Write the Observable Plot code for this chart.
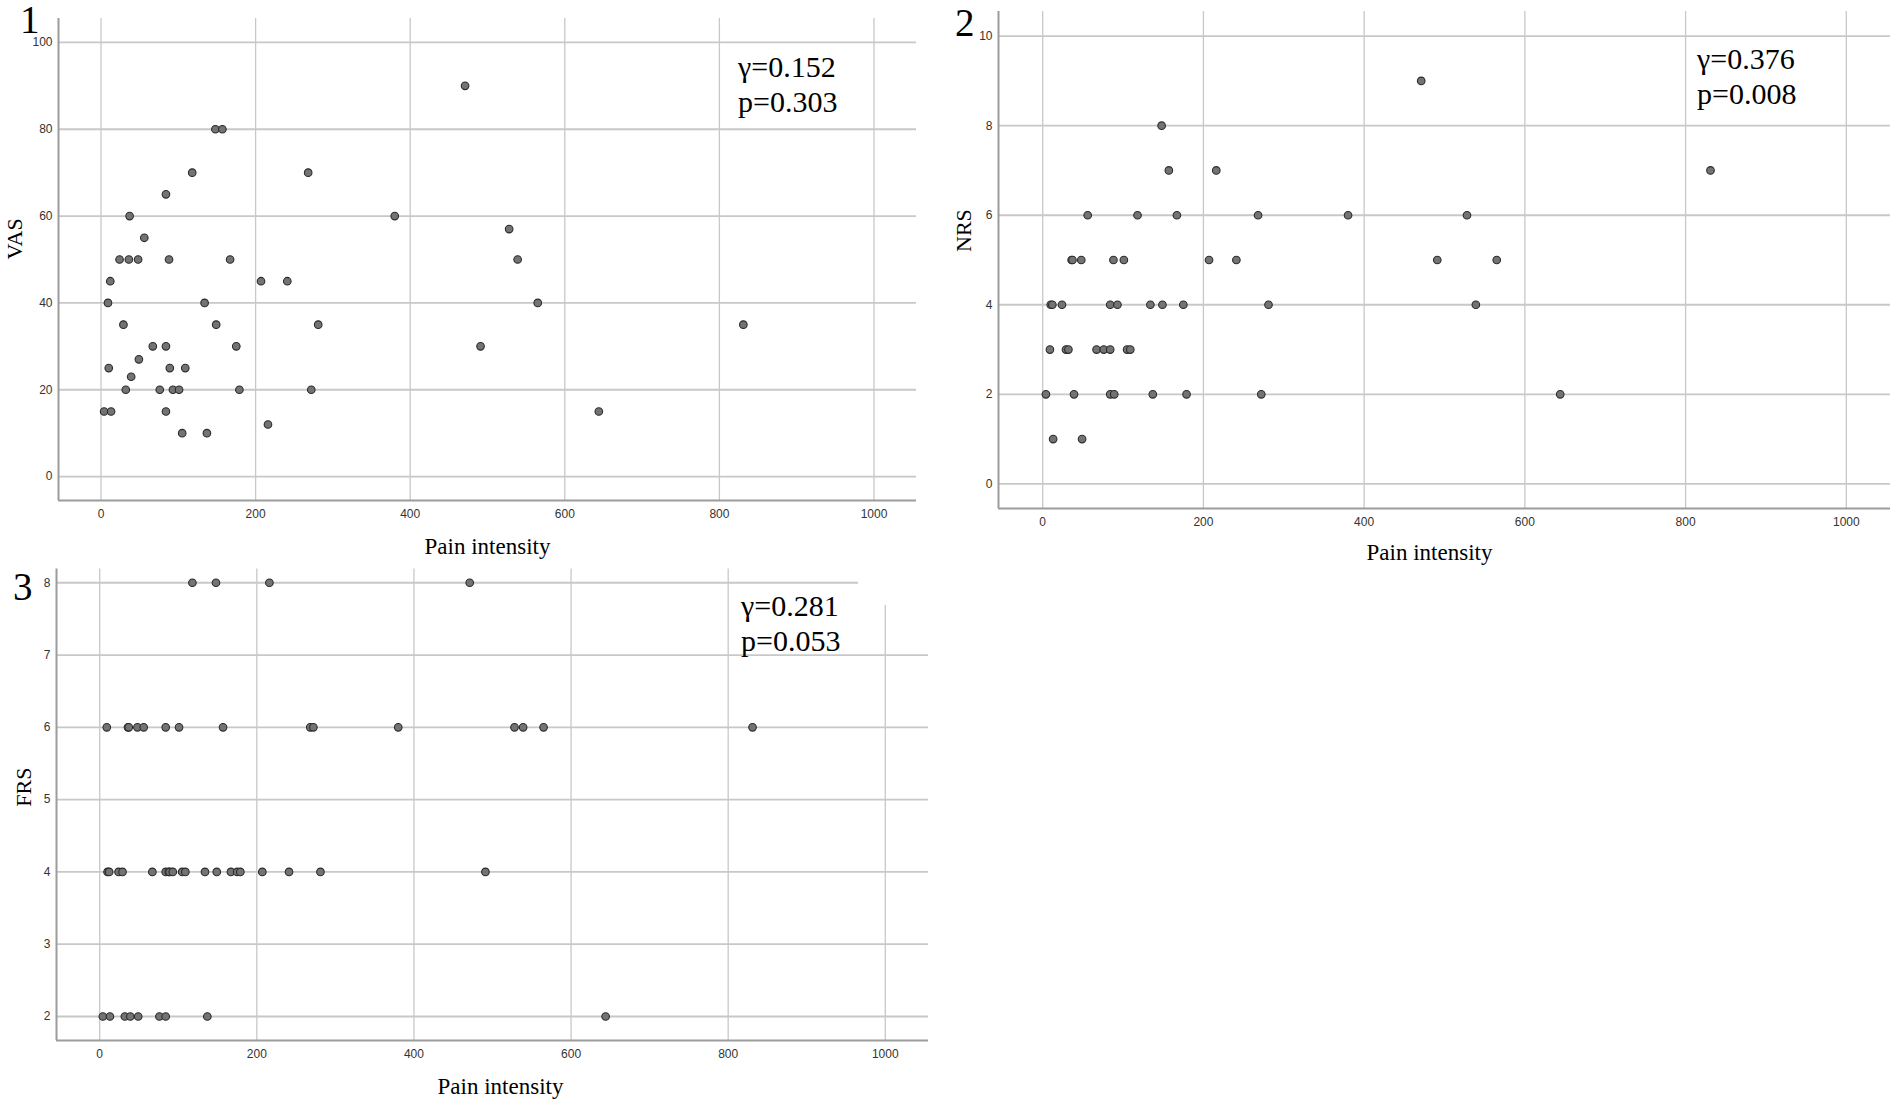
<!DOCTYPE html>
<html>
<head>
<meta charset="utf-8">
<script src="https://cdn.jsdelivr.net/npm/d3@7"></script>
<script src="https://cdn.jsdelivr.net/npm/@observablehq/plot@0.6"></script>
<style>
  html, body { margin: 0; padding: 0; background: #fff; }
  body { width: 1902px; height: 1110px; position: relative; overflow: hidden; }
  .panel { position: absolute; }
  .num { position: absolute; font-family: "Liberation Serif", serif; font-size: 39px; line-height: 28px; color: #000; white-space: nowrap; letter-spacing: -9px; }
  .stat { position: absolute; font-family: "Liberation Serif", serif; font-size: 30px; line-height: 35px; color: #000; white-space: nowrap; }
  .mask { position: absolute; background: #fff; }
</style>
</head>
<body>
<script>
// ---- data ----
const painIntensity = [4, 9, 10, 12, 13, 24, 29, 32, 36, 37, 39, 48, 49, 56, 67, 76, 84, 84, 84, 88, 89, 93, 101, 105, 109, 118, 134, 137, 148, 149, 157, 167, 175, 179, 207, 216, 241, 268, 272, 281, 380, 471, 491, 528, 539, 565, 644, 831];
const vas = [15, 40, 25, 45, 15, 50, 35, 20, 50, 60, 23, 50, 27, 55, 30, 20, 65, 30, 15, 50, 25, 20, 20, 10, 25, 70, 40, 10, 80, 35, 80, 50, 30, 20, 45, 12, 45, 70, 20, 35, 60, 90, 30, 57, 50, 40, 15, 35];
const nrs = [2, 3, 4, 4, 1, 4, 3, 3, 5, 5, 2, 5, 1, 6, 3, 3, 4, 3, 2, 5, 2, 4, 5, 3, 3, 6, 4, 2, 8, 4, 7, 6, 4, 2, 5, 7, 5, 6, 2, 4, 6, 9, 5, 6, 4, 5, 2, 7];
const frs = [2, 6, 4, 4, 2, 4, 4, 2, 6, 6, 2, 6, 2, 6, 4, 2, 6, 2, 4, 4, 4, 4, 6, 4, 4, 8, 4, 2, 8, 4, 6, 4, 4, 4, 4, 8, 4, 6, 6, 4, 6, 8, 4, 6, 6, 6, 2, 6];

const xTicks = [0, 200, 400, 600, 800, 1000];
const vasTicks = [0, 20, 40, 60, 80, 100];
const nrsTicks = [0, 2, 4, 6, 8, 10];
const frsTicks = [2, 3, 4, 5, 6, 7, 8];

const xLabel = "Pain intensity";
const yLabels = ["VAS", "NRS", "FRS"];
const panelNumbers = ["1", "2", "3"];
const gammaValues = ["0.152", "0.376", "0.281"];
const pValues = ["0.303", "0.008", "0.053"];

// ---- scale domains ----
const xDomain = [-55, 1055];
const yDomains = [[-5.5, 105.5], [-0.55, 10.55], [1.668, 8.19]];
const yTickSets = [vasTicks, nrsTicks, frsTicks];
const yKeys = ["vas", "nrs", "frs"];

const data = painIntensity.map((x, i) => ({x, vas: vas[i], nrs: nrs[i], frs: frs[i]}));
const plainFormat = d => String(d);

// ---- layout ----
const layout = [
  {left: 0,   top: 0,   width: 951, height: 560, mt: 18,   mr: 35, mb: 60, ml: 58, yLabDx: -52, yLabDy: 0,  xLabDx: 0,   xLabDy: 53,
   num: {left: 20, top: 6}, stat: {left: 738, top: 49}},
  {left: 940, top: 0,   width: 962, height: 570, mt: 11,   mr: 12, mb: 62, ml: 58, yLabDx: -43, yLabDy: -8, xLabDx: -15, xLabDy: 51,
   num: {left: 955, top: 9}, stat: {left: 1697, top: 41}},
  {left: 0,   top: 555, width: 951, height: 555, mt: 13.5, mr: 23, mb: 70, ml: 56, yLabDx: -41, yLabDy: 2,  xLabDx: 8,   xLabDy: 53,
   num: {left: 13, top: 573}, stat: {left: 741, top: 588}}
];

layout.forEach((L, i) => {
  const yDomain = yDomains[i];
  const chart = Plot.plot({
    width: L.width,
    height: L.height,
    marginTop: L.mt,
    marginRight: L.mr,
    marginBottom: L.mb,
    marginLeft: L.ml,
    x: {domain: xDomain},
    y: {domain: yDomain},
    style: {fontFamily: "'Liberation Sans', Arial, sans-serif", fontSize: "12px", background: "transparent", overflow: "visible"},
    marks: [
      Plot.gridX({ticks: xTicks, stroke: "#c8c8c8", strokeWidth: 1.3, strokeOpacity: 1}),
      Plot.gridY({ticks: yTickSets[i], stroke: "#c8c8c8", strokeWidth: 1.8, strokeOpacity: 1}),
      Plot.ruleX([xDomain[0]], {stroke: "#9c9c9c", strokeWidth: 2}),
      Plot.ruleY([yDomain[0]], {stroke: "#9c9c9c", strokeWidth: 2}),
      Plot.axisX({ticks: xTicks, tickFormat: plainFormat, tickSize: 0, tickPadding: 9, fill: "#333", label: null}),
      Plot.axisY({ticks: yTickSets[i], tickFormat: plainFormat, tickSize: 0, tickPadding: 6, fill: "#333", label: null}),
      Plot.dot(data, {x: "x", y: yKeys[i], r: 3.8, fill: "#737373", stroke: "#2b2b2b", strokeWidth: 1.1}),
      Plot.text([xLabel], {frameAnchor: "bottom", lineAnchor: "bottom", dx: L.xLabDx, dy: L.xLabDy,
        fontFamily: "'Liberation Serif', serif", fontSize: 23, fill: "#000"}),
      Plot.text([yLabels[i]], {frameAnchor: "left", lineAnchor: "top", rotate: -90, dx: L.yLabDx, dy: L.yLabDy,
        fontFamily: "'Liberation Serif', serif", fontSize: 22, fill: "#000"})
    ]
  });
  chart.classList.add("panel");
  chart.style.left = L.left + "px";
  chart.style.top = L.top + "px";
  document.body.appendChild(chart);

  const num = document.createElement("div");
  num.className = "num";
  num.style.left = L.num.left + "px";
  num.style.top = L.num.top + "px";
  num.textContent = panelNumbers[i];
  document.body.appendChild(num);
});

// white patch present in the reference over the top-right corner of panel 3
const mask = document.createElement("div");
mask.className = "mask";
mask.style.left = "858px";
mask.style.top = "556px";
mask.style.width = "93px";
mask.style.height = "49px";
document.body.appendChild(mask);

layout.forEach((L, i) => {
  const st = document.createElement("div");
  st.className = "stat";
  st.style.left = L.stat.left + "px";
  st.style.top = L.stat.top + "px";
  st.innerHTML = "γ=" + gammaValues[i] + "<br>p=" + pValues[i];
  document.body.appendChild(st);
});
</script>
</body>
</html>
